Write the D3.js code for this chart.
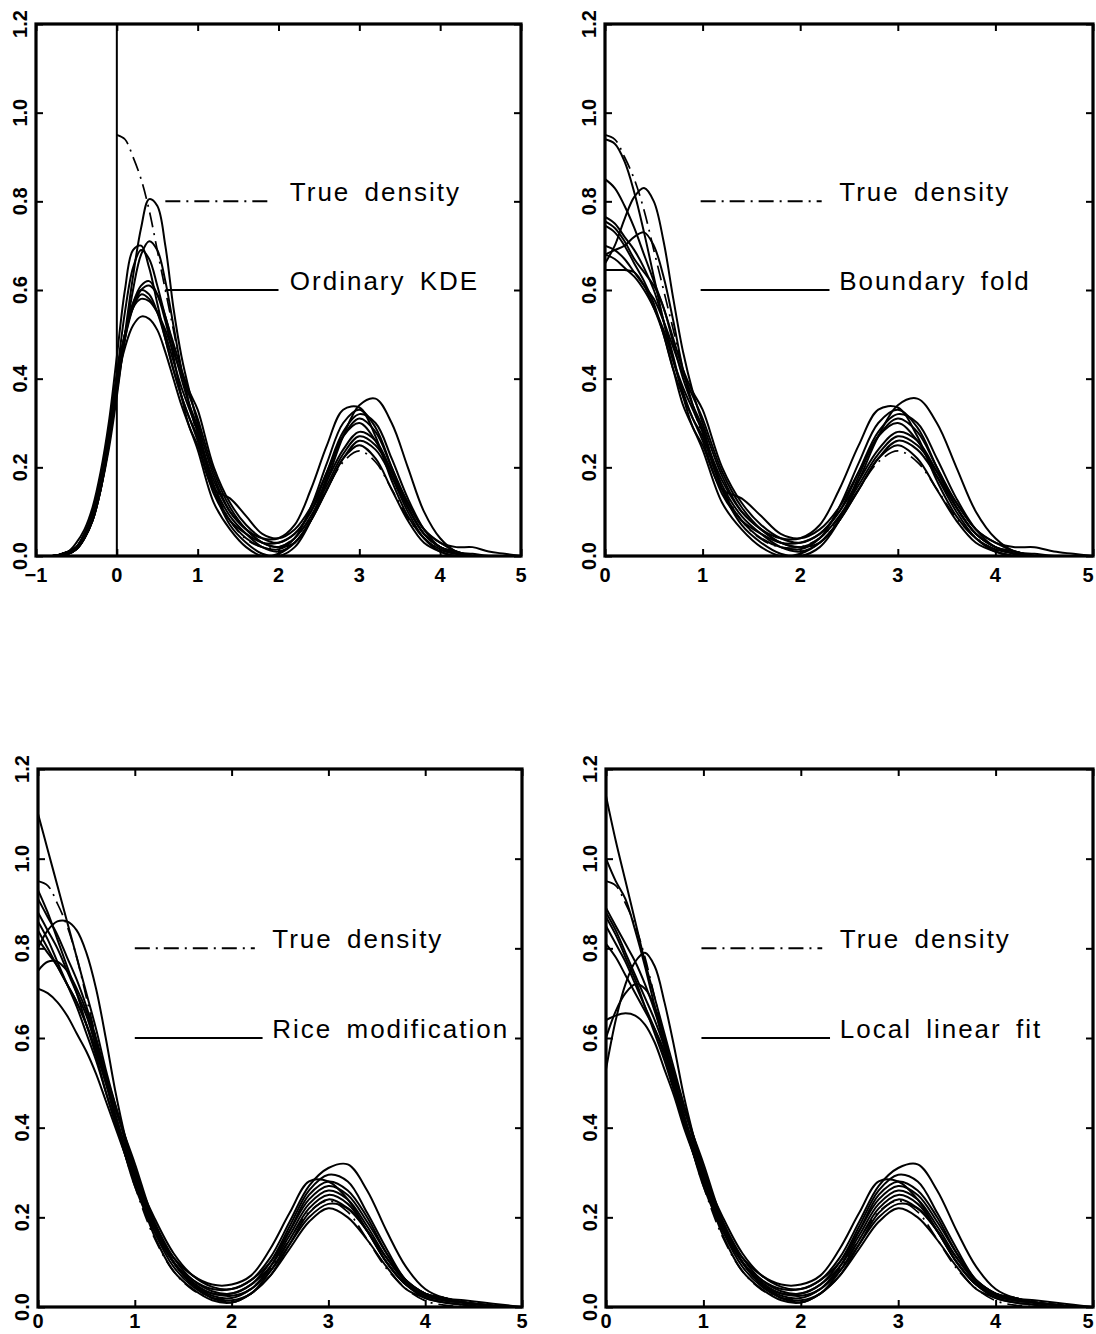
<!DOCTYPE html>
<html>
<head>
<meta charset="utf-8">
<script src="https://cdn.jsdelivr.net/npm/d3@7"></script>
<style>
  body { margin: 0; background: #fff; }
  svg text { font-family: "Liberation Sans", Arial, sans-serif; fill: #000; }
  .tick-label { font-size: 20px; font-weight: bold; }
  .legend { font-size: 26px; letter-spacing: 2px; word-spacing: 5px; }
  .axis path { display: none; }
  .axis line { stroke: #000; stroke-width: 2; }
</style>
</head>
<body>
<div id="canvas"></div>
<script>
// tick values
var yTicks = [0, 0.2, 0.4, 0.6, 0.8, 1.0, 1.2];
var xTicksA = [-1, 0, 1, 2, 3, 4, 5];
var xTicksB = [0, 1, 2, 3, 4, 5];

// x grids the curves were read at
var gridNeg = [-1, -0.8, -0.6, -0.5, -0.4, -0.3, -0.2, -0.1];
var gridHead = [0, 0.1, 0.2, 0.3, 0.4, 0.5, 0.6, 0.7, 0.8, 0.9];
var gridTail = [1.0, 1.2, 1.4, 1.6, 1.8, 2.0, 2.2, 2.4, 2.6, 2.8, 3.0, 3.2, 3.4, 3.6, 3.8, 4.0, 4.2, 4.4, 4.6, 4.8, 5.0];

// true density (dash-dot)
var trueHead = [0.95, 0.94, 0.90, 0.85, 0.78, 0.69, 0.60, 0.51, 0.42, 0.34];
var trueTail = [0.27, 0.155, 0.08, 0.038, 0.02, 0.02, 0.041, 0.086, 0.151, 0.212, 0.237, 0.212, 0.151, 0.086, 0.041, 0.014, 0.004, 0.001, 0, 0, 0];

// ordinary KDE, x < 0
var kdeNeg = [
  [0, 0, 0.005, 0.015, 0.04, 0.08, 0.15, 0.24],
  [0, 0, 0.005, 0.015, 0.04, 0.08, 0.15, 0.25],
  [0, 0, 0.01, 0.03, 0.06, 0.11, 0.19, 0.30],
  [0, 0, 0.01, 0.02, 0.05, 0.10, 0.18, 0.28],
  [0, 0, 0.005, 0.015, 0.04, 0.08, 0.15, 0.25],
  [0, 0, 0.005, 0.015, 0.04, 0.08, 0.15, 0.26],
  [0, 0, 0.01, 0.02, 0.05, 0.09, 0.16, 0.27],
  [0, 0, 0.01, 0.02, 0.05, 0.09, 0.17, 0.28],
  [0, 0, 0.01, 0.02, 0.05, 0.09, 0.16, 0.27],
  [0, 0, 0.01, 0.02, 0.05, 0.10, 0.18, 0.28]
];
// ordinary KDE, 0 <= x < 1
var kdeHead = [
  [0.36, 0.50, 0.63, 0.74, 0.805, 0.79, 0.70, 0.56, 0.45, 0.37],
  [0.37, 0.49, 0.60, 0.68, 0.71, 0.69, 0.62, 0.52, 0.42, 0.34],
  [0.45, 0.60, 0.69, 0.70, 0.65, 0.57, 0.49, 0.42, 0.36, 0.31],
  [0.41, 0.55, 0.65, 0.69, 0.67, 0.61, 0.54, 0.48, 0.42, 0.37],
  [0.38, 0.49, 0.57, 0.61, 0.62, 0.59, 0.53, 0.45, 0.36, 0.29],
  [0.39, 0.49, 0.56, 0.60, 0.61, 0.59, 0.54, 0.47, 0.40, 0.34],
  [0.40, 0.50, 0.57, 0.60, 0.59, 0.55, 0.49, 0.42, 0.36, 0.31],
  [0.41, 0.50, 0.56, 0.58, 0.575, 0.55, 0.51, 0.46, 0.41, 0.36],
  [0.40, 0.50, 0.56, 0.59, 0.58, 0.55, 0.50, 0.44, 0.38, 0.33],
  [0.39, 0.47, 0.52, 0.54, 0.535, 0.51, 0.46, 0.40, 0.34, 0.29]
];
// boundary fold, 0 <= x < 1
var foldHead = [
  [0.66, 0.70, 0.76, 0.81, 0.83, 0.80, 0.71, 0.58, 0.46, 0.37],
  [0.68, 0.69, 0.70, 0.72, 0.73, 0.70, 0.63, 0.53, 0.42, 0.34],
  [0.94, 0.93, 0.89, 0.82, 0.73, 0.63, 0.53, 0.44, 0.37, 0.31],
  [0.85, 0.83, 0.79, 0.74, 0.68, 0.62, 0.56, 0.49, 0.42, 0.37],
  [0.765, 0.75, 0.72, 0.69, 0.65, 0.60, 0.53, 0.45, 0.36, 0.29],
  [0.755, 0.74, 0.71, 0.67, 0.64, 0.61, 0.56, 0.48, 0.40, 0.34],
  [0.745, 0.73, 0.70, 0.66, 0.62, 0.57, 0.50, 0.42, 0.36, 0.31],
  [0.70, 0.69, 0.67, 0.64, 0.61, 0.58, 0.53, 0.47, 0.41, 0.36],
  [0.68, 0.67, 0.65, 0.63, 0.60, 0.56, 0.51, 0.44, 0.38, 0.33],
  [0.645, 0.645, 0.645, 0.64, 0.61, 0.56, 0.50, 0.42, 0.34, 0.29]
];
// KDE and fold share the interior, x >= 1
var tailA = [
  [0.30, 0.18, 0.10, 0.06, 0.03, 0.02, 0.03, 0.08, 0.17, 0.27, 0.34, 0.355, 0.30, 0.20, 0.10, 0.04, 0.01, 0.005, 0, 0, 0],
  [0.28, 0.17, 0.10, 0.06, 0.04, 0.04, 0.07, 0.15, 0.25, 0.33, 0.335, 0.27, 0.17, 0.09, 0.04, 0.015, 0.005, 0, 0, 0, 0],
  [0.27, 0.15, 0.08, 0.04, 0.02, 0.015, 0.04, 0.11, 0.21, 0.30, 0.33, 0.29, 0.20, 0.11, 0.05, 0.02, 0.01, 0, 0, 0, 0],
  [0.33, 0.20, 0.12, 0.07, 0.04, 0.03, 0.05, 0.10, 0.19, 0.28, 0.32, 0.30, 0.22, 0.13, 0.06, 0.02, 0.01, 0, 0, 0, 0],
  [0.25, 0.15, 0.13, 0.09, 0.05, 0.04, 0.06, 0.11, 0.19, 0.27, 0.31, 0.28, 0.20, 0.12, 0.06, 0.03, 0.02, 0.02, 0.01, 0.005, 0],
  [0.29, 0.15, 0.07, 0.03, 0.005, 0, 0.02, 0.08, 0.18, 0.27, 0.30, 0.26, 0.18, 0.10, 0.04, 0.01, 0, 0, 0, 0, 0],
  [0.26, 0.14, 0.08, 0.05, 0.03, 0.03, 0.05, 0.10, 0.17, 0.24, 0.28, 0.26, 0.19, 0.11, 0.05, 0.02, 0.005, 0, 0, 0, 0],
  [0.31, 0.19, 0.11, 0.06, 0.03, 0.02, 0.04, 0.09, 0.16, 0.23, 0.27, 0.25, 0.19, 0.12, 0.06, 0.03, 0.01, 0, 0, 0, 0],
  [0.28, 0.16, 0.09, 0.05, 0.02, 0.01, 0.03, 0.08, 0.15, 0.22, 0.26, 0.24, 0.18, 0.11, 0.05, 0.02, 0.005, 0, 0, 0, 0],
  [0.24, 0.12, 0.06, 0.02, 0, 0.005, 0.03, 0.08, 0.15, 0.22, 0.25, 0.22, 0.15, 0.08, 0.03, 0.01, 0, 0, 0, 0, 0]
];
// Rice modification, 0 <= x < 1
var riceHead = [
  [0.80, 0.84, 0.86, 0.86, 0.84, 0.79, 0.71, 0.60, 0.48, 0.38],
  [1.10, 1.02, 0.94, 0.86, 0.78, 0.70, 0.62, 0.53, 0.45, 0.37],
  [0.93, 0.88, 0.82, 0.76, 0.70, 0.63, 0.56, 0.48, 0.41, 0.34],
  [0.91, 0.87, 0.83, 0.78, 0.73, 0.67, 0.60, 0.52, 0.45, 0.38],
  [0.75, 0.77, 0.77, 0.75, 0.71, 0.66, 0.59, 0.51, 0.42, 0.34],
  [0.88, 0.84, 0.80, 0.75, 0.70, 0.65, 0.58, 0.51, 0.44, 0.38],
  [0.86, 0.82, 0.77, 0.72, 0.67, 0.61, 0.55, 0.48, 0.41, 0.35],
  [0.84, 0.80, 0.76, 0.72, 0.68, 0.63, 0.57, 0.50, 0.43, 0.36],
  [0.71, 0.70, 0.68, 0.65, 0.61, 0.57, 0.52, 0.46, 0.40, 0.34],
  [0.82, 0.79, 0.76, 0.72, 0.68, 0.63, 0.57, 0.50, 0.42, 0.35]
];
// local linear fit, 0 <= x < 1
var llHead = [
  [0.53, 0.64, 0.72, 0.77, 0.79, 0.76, 0.68, 0.58, 0.47, 0.38],
  [1.14, 1.04, 0.95, 0.86, 0.77, 0.69, 0.61, 0.53, 0.45, 0.37],
  [1.00, 0.95, 0.91, 0.84, 0.76, 0.67, 0.58, 0.49, 0.41, 0.34],
  [0.89, 0.85, 0.81, 0.77, 0.72, 0.66, 0.59, 0.52, 0.45, 0.38],
  [0.60, 0.66, 0.70, 0.72, 0.71, 0.67, 0.60, 0.51, 0.42, 0.34],
  [0.88, 0.84, 0.79, 0.74, 0.69, 0.64, 0.58, 0.51, 0.44, 0.38],
  [0.87, 0.83, 0.78, 0.73, 0.67, 0.61, 0.55, 0.48, 0.41, 0.35],
  [0.81, 0.78, 0.74, 0.70, 0.66, 0.62, 0.57, 0.50, 0.43, 0.36],
  [0.64, 0.65, 0.655, 0.65, 0.63, 0.59, 0.53, 0.47, 0.40, 0.34],
  [0.85, 0.81, 0.77, 0.72, 0.67, 0.62, 0.56, 0.49, 0.42, 0.35]
];
// Rice and local linear share the interior, x >= 1
var tailB = [
  [0.30, 0.20, 0.12, 0.07, 0.045, 0.04, 0.06, 0.11, 0.19, 0.27, 0.31, 0.318, 0.26, 0.17, 0.09, 0.04, 0.02, 0.015, 0.01, 0.005, 0],
  [0.29, 0.19, 0.11, 0.06, 0.035, 0.03, 0.05, 0.10, 0.18, 0.26, 0.295, 0.28, 0.21, 0.13, 0.06, 0.03, 0.02, 0.01, 0.005, 0.002, 0],
  [0.28, 0.18, 0.11, 0.07, 0.05, 0.05, 0.07, 0.13, 0.21, 0.28, 0.28, 0.24, 0.17, 0.10, 0.05, 0.025, 0.015, 0.01, 0.005, 0, 0],
  [0.31, 0.19, 0.10, 0.05, 0.025, 0.02, 0.04, 0.09, 0.17, 0.25, 0.28, 0.26, 0.20, 0.12, 0.06, 0.03, 0.02, 0.01, 0.005, 0, 0],
  [0.27, 0.17, 0.10, 0.06, 0.04, 0.04, 0.06, 0.10, 0.17, 0.24, 0.27, 0.25, 0.19, 0.12, 0.06, 0.03, 0.015, 0.01, 0.005, 0, 0],
  [0.32, 0.19, 0.10, 0.05, 0.02, 0.015, 0.03, 0.08, 0.15, 0.22, 0.25, 0.23, 0.17, 0.10, 0.05, 0.025, 0.015, 0.01, 0.005, 0, 0],
  [0.29, 0.17, 0.09, 0.045, 0.02, 0.01, 0.03, 0.07, 0.14, 0.21, 0.24, 0.22, 0.17, 0.10, 0.05, 0.02, 0.01, 0.005, 0, 0, 0],
  [0.30, 0.18, 0.10, 0.05, 0.03, 0.025, 0.04, 0.08, 0.14, 0.20, 0.23, 0.22, 0.17, 0.11, 0.06, 0.03, 0.02, 0.01, 0.005, 0, 0],
  [0.28, 0.16, 0.08, 0.04, 0.015, 0.01, 0.03, 0.07, 0.13, 0.19, 0.22, 0.20, 0.15, 0.09, 0.04, 0.02, 0.01, 0.005, 0, 0, 0],
  [0.29, 0.18, 0.10, 0.055, 0.03, 0.03, 0.05, 0.09, 0.16, 0.23, 0.26, 0.24, 0.18, 0.11, 0.055, 0.025, 0.015, 0.01, 0.005, 0, 0]
];

var legendNames = ['Ordinary KDE', 'Boundary fold', 'Rice modification', 'Local linear fit'];
var trueName = 'True density';

// layout of the four frames (pixels)
var panels = [
  {l: 36,  r: 521,  t: 24,  b: 556,  lab: 26, dom: [-1, 5], ticks: xTicksA, legX: [0.6, 1.92, 2.14], boundary: true,
   xs: gridNeg.concat(gridHead, gridTail), curves: kdeHead.map(function(h, i){ return kdeNeg[i].concat(h, tailA[i]); })},
  {l: 605, r: 1093, t: 24,  b: 556,  lab: 26, dom: [0, 5], ticks: xTicksB, legX: [0.98, 2.22, 2.40],
   xs: gridHead.concat(gridTail), curves: foldHead.map(function(h, i){ return h.concat(tailA[i]); })},
  {l: 38,  r: 522,  t: 769, b: 1307, lab: 21, dom: [0, 5], ticks: xTicksB, legX: [1.0, 2.24, 2.42],
   xs: gridHead.concat(gridTail), curves: riceHead.map(function(h, i){ return h.concat(tailB[i]); })},
  {l: 606, r: 1093, t: 769, b: 1307, lab: 21, dom: [0, 5], ticks: xTicksB, legX: [0.98, 2.22, 2.40],
   xs: gridHead.concat(gridTail), curves: llHead.map(function(h, i){ return h.concat(tailB[i]); })}
];

var trueXs = gridHead.concat(gridTail),
    trueYs = trueHead.concat(trueTail);

var svg = d3.select('#canvas')
  .append('svg')
  .attr('width', 1096)
  .attr('height', 1334);

var dashDot = '15,6,2,6';

panels.forEach(function(p, k){
  var x = d3.scaleLinear().domain(p.dom).range([p.l, p.r]);
  var y = d3.scaleLinear().domain([0, 1.2]).range([p.b, p.t]);
  var g = svg.append('g');

  g.append('clipPath').attr('id', 'clip' + k)
    .append('rect')
    .attr('x', p.l).attr('y', p.t)
    .attr('width', p.r - p.l).attr('height', p.b - p.t);

  var line = d3.line()
    .x(function(d){ return x(d[0]); })
    .y(function(d){ return y(d[1]); })
    .curve(d3.curveCatmullRom.alpha(0.5));

  var plot = g.append('g').attr('clip-path', 'url(#clip' + k + ')');

  // true density
  plot.append('path')
    .attr('d', line(d3.zip(trueXs, trueYs)))
    .attr('fill', 'none')
    .attr('stroke', '#000')
    .attr('stroke-width', 1.7)
    .attr('stroke-dasharray', dashDot);

  // the estimates
  plot.selectAll('.est')
    .data(p.curves)
    .enter()
    .append('path')
    .attr('class', 'est')
    .attr('d', function(c){ return line(d3.zip(p.xs, c)); })
    .attr('fill', 'none')
    .attr('stroke', '#000')
    .attr('stroke-width', 2);

  if (p.boundary) {
    g.append('line')
      .attr('x1', x(0)).attr('x2', x(0))
      .attr('y1', y(0)).attr('y2', y(1.2))
      .attr('stroke', '#000').attr('stroke-width', 2);
  }

  // inward ticks on all four sides
  g.append('g').attr('class', 'axis')
    .attr('transform', 'translate(0,' + p.b + ')')
    .call(d3.axisBottom(x).tickValues(p.ticks).tickSize(-7).tickFormat(''));
  g.append('g').attr('class', 'axis')
    .attr('transform', 'translate(0,' + p.t + ')')
    .call(d3.axisTop(x).tickValues(p.ticks).tickSize(-7).tickFormat(''));
  g.append('g').attr('class', 'axis')
    .attr('transform', 'translate(' + p.l + ',0)')
    .call(d3.axisLeft(y).tickValues(yTicks).tickSize(-7).tickFormat(''));
  g.append('g').attr('class', 'axis')
    .attr('transform', 'translate(' + p.r + ',0)')
    .call(d3.axisRight(y).tickValues(yTicks).tickSize(-7).tickFormat(''));

  // frame
  g.append('rect')
    .attr('x', p.l).attr('y', p.t)
    .attr('width', p.r - p.l).attr('height', p.b - p.t)
    .attr('fill', 'none')
    .attr('stroke', '#000')
    .attr('stroke-width', 3.2);

  // tick labels (keep the last one inside the page)
  g.selectAll('.xl')
    .data(p.ticks)
    .enter()
    .append('text')
    .attr('class', 'tick-label')
    .attr('x', function(d){ return Math.min(x(d), 1088); })
    .attr('y', p.b + p.lab)
    .attr('text-anchor', 'middle')
    .text(function(d){ return d3.format('d')(d); });

  g.selectAll('.yl')
    .data(yTicks)
    .enter()
    .append('text')
    .attr('class', 'tick-label')
    .attr('text-anchor', 'middle')
    .attr('transform', function(d){ return 'translate(' + (p.l - 9) + ',' + y(d) + ') rotate(-90)'; })
    .text(function(d){ return d3.format('.1f')(d); });

  // legend
  g.append('line')
    .attr('x1', x(p.legX[0])).attr('x2', x(p.legX[1]))
    .attr('y1', y(0.8)).attr('y2', y(0.8))
    .attr('stroke', '#000').attr('stroke-width', 2)
    .attr('stroke-dasharray', dashDot);
  g.append('text')
    .attr('class', 'legend')
    .attr('x', x(p.legX[2])).attr('y', y(0.8))
    .text(trueName);
  g.append('line')
    .attr('x1', x(p.legX[0])).attr('x2', x(p.legX[1] + 0.08))
    .attr('y1', y(0.6)).attr('y2', y(0.6))
    .attr('stroke', '#000').attr('stroke-width', 2);
  g.append('text')
    .attr('class', 'legend')
    .attr('x', x(p.legX[2])).attr('y', y(0.6))
    .text(legendNames[k]);
});
</script>
</body>
</html>
